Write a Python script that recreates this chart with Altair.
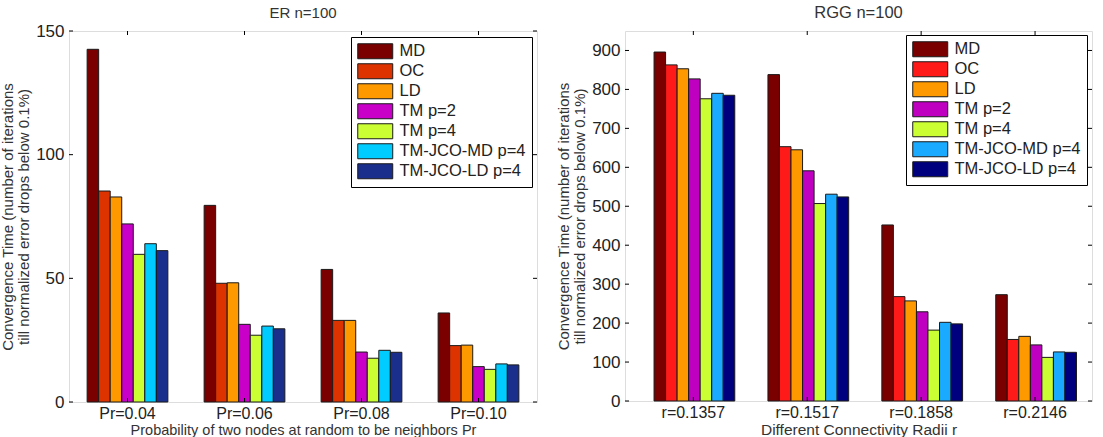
import altair as alt
import pandas as pd

FONT = "Liberation Sans"

series = ["MD", "OC", "LD", "TM p=2", "TM p=4", "TM-JCO-MD p=4", "TM-JCO-LD p=4"]

# ER random graphs, n=100: convergence time per edge probability
er_groups = ["Pr=0.04", "Pr=0.06", "Pr=0.08", "Pr=0.10"]
er_md = [142.6, 79.5, 53.6, 36.0]
er_oc = [85.3, 48.0, 33.0, 22.8]
er_ld = [82.9, 48.2, 33.0, 23.0]
er_tm2 = [72.0, 31.4, 20.2, 14.3]
er_tm4 = [59.7, 27.0, 17.7, 13.2]
er_jco_md = [64.0, 30.7, 20.9, 15.4]
er_jco_ld = [61.2, 29.6, 20.1, 15.0]
er_colors = ["#7a0000", "#dd3300", "#ff9900", "#c800c8", "#ccff33", "#00ccff", "#1a2f8c"]
er_yticks = [0, 50, 100, 150]

# Random geometric graphs, n=100: convergence time per connectivity radius
rgg_groups = ["r=0.1357", "r=0.1517", "r=0.1858", "r=0.2146"]
rgg_md = [896, 838, 452, 273]
rgg_oc = [863, 653, 268, 158]
rgg_ld = [853, 645, 257, 166]
rgg_tm2 = [827, 591, 229, 144]
rgg_tm4 = [776, 507, 182, 112]
rgg_jco_md = [790, 531, 202, 126]
rgg_jco_ld = [785, 524, 198, 125]
rgg_colors = ["#7a0000", "#ff1a1a", "#ff9900", "#c000c0", "#ccff33", "#1aaaff", "#00007f"]
rgg_yticks = [0, 100, 200, 300, 400, 500, 600, 700, 800, 900]

y_title = ["Convergence Time (number of iterations", "till normalized error drops below 0.1%)"]

BOX = "M-2.333,-1L2.333,-1L2.333,1L-2.333,1Z"


def panel(groups, value_lists, colors, ymax, yticks, title, title_size, title_offset,
          xtitle, xtitle_size, width, height, pad_outer, align, legend_x, legend_y):
    rows = []
    for s, vals in zip(series, value_lists):
        for g, v in zip(groups, vals):
            rows.append({"group": g, "series": s, "value": v})
    df = pd.DataFrame(rows)

    xscale = alt.Scale(domain=groups, paddingInner=0.31, paddingOuter=pad_outer, align=align)
    yscale = alt.Scale(domain=[0, ymax], nice=False, zero=True)
    xaxis = alt.Axis(title=xtitle, labelAngle=0, ticks=False, domain=False,
                     labelFontSize=16, labelPadding=3, titleFontSize=xtitle_size,
                     titlePadding=2, titleFontWeight="normal")
    yaxis = alt.Axis(values=yticks, ticks=False, domain=False, grid=False,
                     labelFontSize=17, labelPadding=5, title=y_title,
                     titleFontSize=15, titleLineHeight=16,
                     titleFontWeight="normal", titlePadding=4)

    bars = alt.Chart(df).mark_bar(stroke="#1a1a1a", strokeWidth=1, opacity=1).encode(
        x=alt.X("group:N", sort=groups, scale=xscale, axis=xaxis),
        xOffset=alt.XOffset("series:N", sort=series,
                            scale=alt.Scale(domain=series, paddingInner=0, paddingOuter=0)),
        y=alt.Y("value:Q", scale=yscale, axis=yaxis),
        color=alt.Color("series:N", sort=series,
                        scale=alt.Scale(domain=series, range=colors),
                        legend=alt.Legend(title=None, orient="none",
                                          legendX=legend_x, legendY=legend_y,
                                          symbolType=BOX, symbolSize=225,
                                          symbolOffset=10, labelOffset=16,
                                          symbolStrokeColor="#1a1a1a",
                                          symbolStrokeWidth=1, symbolOpacity=1,
                                          labelFontSize=16.5, rowPadding=0,
                                          padding=6, strokeColor="black",
                                          fillColor="white")),
    )

    # inward tick marks on all four sides of the frame
    ytick_df = pd.DataFrame({"value": yticks})
    xtick_df = pd.DataFrame({"group": groups})
    ytick_enc = alt.Y("value:Q", scale=yscale, axis=yaxis)
    xtick_enc = alt.X("group:N", sort=groups, scale=xscale, axis=xaxis)

    left_ticks = alt.Chart(ytick_df).mark_rule(color="black").encode(
        y=ytick_enc, x=alt.value(0), x2=alt.value(4))
    right_ticks = alt.Chart(ytick_df).mark_rule(color="black").encode(
        y=ytick_enc, x=alt.value(width - 4), x2=alt.value(width))
    top_ticks = alt.Chart(xtick_df).mark_rule(color="black").encode(
        x=xtick_enc, y=alt.value(0), y2=alt.value(4))
    bottom_ticks = alt.Chart(xtick_df).mark_rule(color="black").encode(
        x=xtick_enc, y=alt.value(height - 4), y2=alt.value(height))

    return alt.layer(bars, left_ticks, right_ticks, top_ticks, bottom_ticks).properties(
        width=width, height=height,
        title=alt.TitleParams(title, fontSize=title_size, fontWeight="normal",
                              color="#333333", anchor="middle", offset=title_offset),
    )


er = panel(er_groups, [er_md, er_oc, er_ld, er_tm2, er_tm4, er_jco_md, er_jco_ld],
           er_colors, 150, er_yticks, "ER n=100", 15, 1,
           "Probability of two nodes at random to be neighbors Pr", 14.5,
           468, 371, 0.155, 0.5, 282, 6)

rgg = panel(rgg_groups, [rgg_md, rgg_oc, rgg_ld, rgg_tm2, rgg_tm4, rgg_jco_md, rgg_jco_ld],
            rgg_colors, 950, rgg_yticks, "RGG n=100", 16.5, 9,
            "Different Connectivity Radii r", 15.5,
            467, 370, 0.205, 0.622, 281, 4)

chart = alt.hconcat(er, rgg, spacing=18).resolve_scale(color="independent").properties(
    padding={"left": 0, "top": 4, "right": 0, "bottom": 0},
    background="white",
).configure_view(stroke="black", strokeWidth=1).configure(
    font=FONT
).configure_axis(
    labelColor="#222222", titleColor="#333333", labelFont=FONT, titleFont=FONT
).configure_legend(
    labelFont=FONT, labelColor="#222222"
).configure_title(font=FONT)

chart.save("out.html", embed_options={"renderer": "svg", "actions": False})
